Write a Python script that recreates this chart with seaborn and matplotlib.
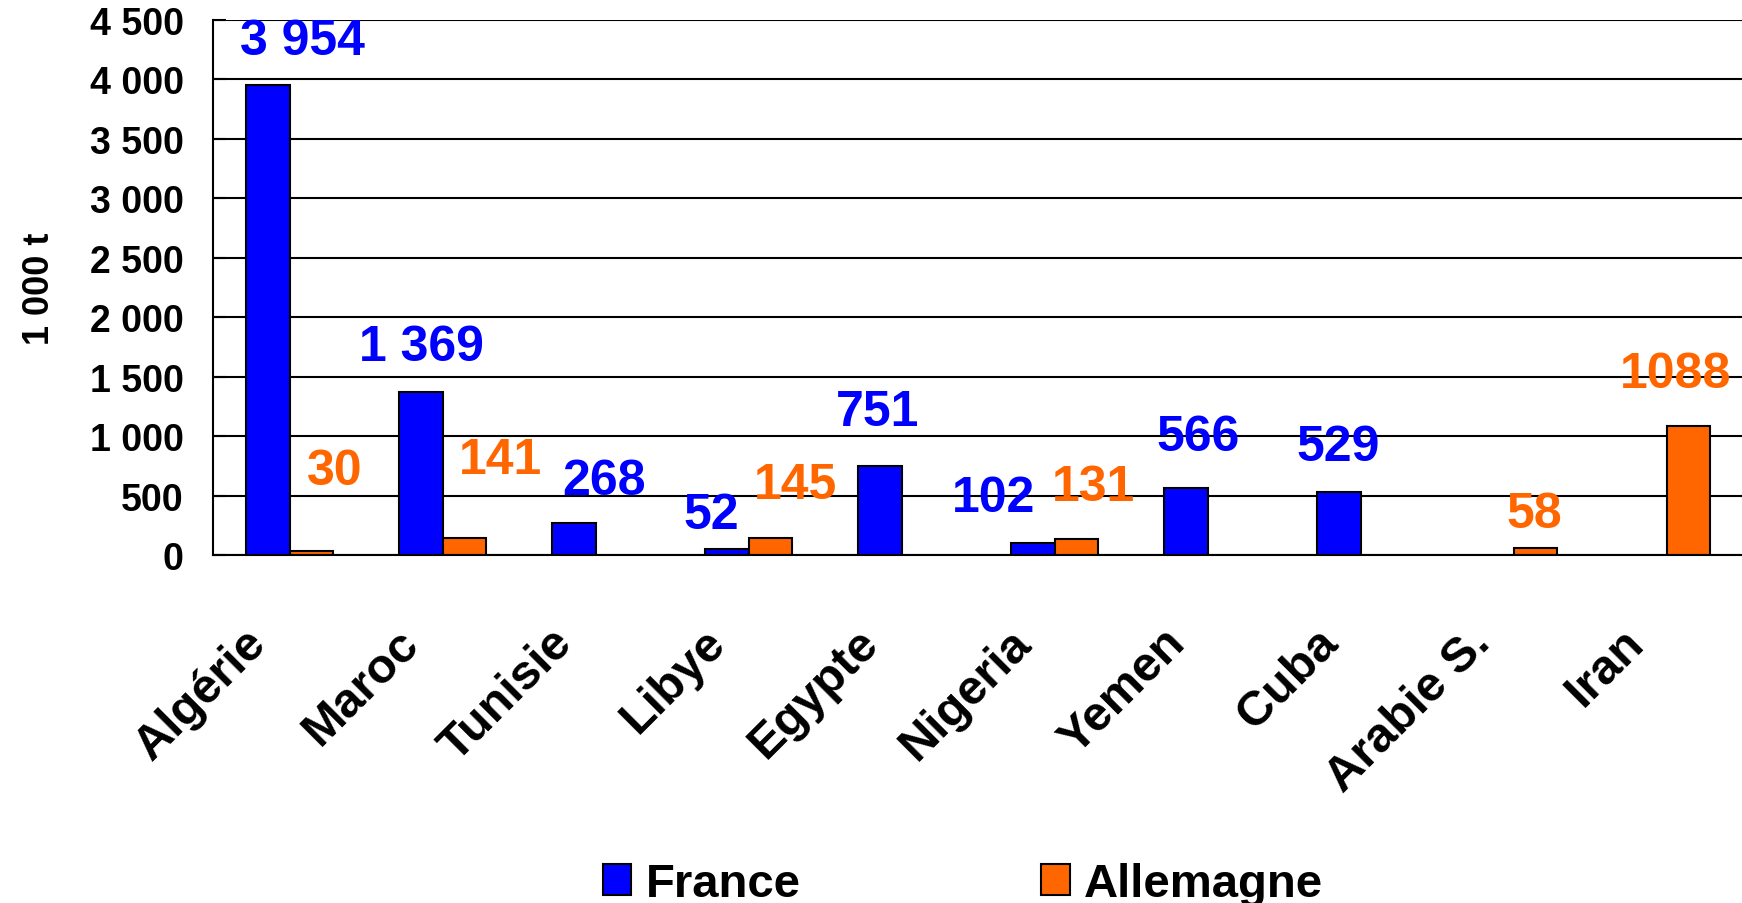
import numpy as np
import pandas as pd
import matplotlib
matplotlib.use("Agg")
import matplotlib.pyplot as plt
import matplotlib.transforms as mtrans
from matplotlib.ticker import FuncFormatter, MultipleLocator
import seaborn as sns

# Data
countries = ["Algérie", "Maroc", "Tunisie", "Libye", "Egypte",
             "Nigeria", "Yemen", "Cuba", "Arabie S.", "Iran"]
france = [3954, 1369, 268, 52, 751, 102, 566, 529, None, None]
allemagne = [30, 141, None, 145, None, 131, None, None, 58, 1088]
series = ["France", "Allemagne"]
colors = {"France": "#0000FF", "Allemagne": "#FF6600"}

# label offsets (pixels) from the top-centre of each bar, hand placed as in original
label_offsets = {
    ("France", "Algérie"): (35, 44), ("France", "Maroc"): (1, 45),
    ("France", "Tunisie"): (31, 42), ("France", "Libye"): (-15, 34),
    ("France", "Egypte"): (-2, 54), ("France", "Nigeria"): (-39, 45),
    ("France", "Yemen"): (13, 51), ("France", "Cuba"): (0, 45),
    ("Allemagne", "Algérie"): (23, 80), ("Allemagne", "Maroc"): (36, 78),
    ("Allemagne", "Libye"): (25, 53), ("Allemagne", "Nigeria"): (17, 52),
    ("Allemagne", "Arabie S."): (-1, 34), ("Allemagne", "Iran"): (-13, 52),
}

rows = []
for c, f, a in zip(countries, france, allemagne):
    if f is not None:
        rows.append({"pays": c, "serie": "France", "val": f})
    if a is not None:
        rows.append({"pays": c, "serie": "Allemagne", "val": a})
df = pd.DataFrame(rows)


def fmt_thousands(v):
    return f"{int(v):,}".replace(",", " ")


label_text = {("France", c): fmt_thousands(v) for c, v in zip(countries, france) if v is not None}
label_text.update({("Allemagne", c): fmt_thousands(v) for c, v in zip(countries, allemagne) if v is not None})
label_text[("Allemagne", "Iran")] = "1088"

sns.set_style("white")
plt.rcParams["font.family"] = ["Liberation Sans", "DejaVu Sans"]
plt.rcParams["font.weight"] = "bold"
plt.rcParams["text.color"] = "black"
plt.rcParams["axes.labelcolor"] = "black"
plt.rcParams["xtick.color"] = "black"
plt.rcParams["ytick.color"] = "black"

fig = plt.figure(figsize=(17.42, 9.04), dpi=100)
W, H = 1742, 904
ax = fig.add_axes([213 / W, 1 - 556 / H, 1530 / W, (556 - 21) / H])

sns.barplot(data=df, x="pays", y="val", hue="serie", order=countries,
            hue_order=series, palette=colors, saturation=1, width=0.575, gap=0,
            edgecolor="black", linewidth=1.5, errorbar=None, ax=ax)

ax.set_xlim(-0.5, 9.5)
ax.set_ylim(0, 4500)
ax.yaxis.set_major_locator(MultipleLocator(500))
ax.yaxis.set_major_formatter(FuncFormatter(lambda v, p: fmt_thousands(v)))
ax.grid(axis="y", color="black", linewidth=1.5)
ax.set_axisbelow(True)
for s in ["top", "right"]:
    ax.spines[s].set_visible(False)
for s in ["left", "bottom"]:
    ax.spines[s].set_color("black")
    ax.spines[s].set_linewidth(1.5)

ax.tick_params(axis="y", direction="in", length=9.5, width=1.5, pad=21,
               labelsize=27, left=True, colors="black")
ax.tick_params(axis="x", length=0, pad=58, labelsize=35, colors="black")
for lab in ax.get_yticklabels():
    lab.set_fontweight("bold")
ax.set_xlabel("")
ax.set_ylabel("1 000 t", fontsize=26, fontweight="bold", color="black")
ax.yaxis.set_label_coords(-0.102, 0.5)

shift = mtrans.ScaledTranslation(-30 / 100, 0, fig.dpi_scale_trans)
for lab in ax.get_xticklabels():
    lab.set_rotation(45)
    lab.set_ha("right")
    lab.set_va("center")
    lab.set_rotation_mode("anchor")
    lab.set_fontweight("bold")
    lab.set_transform(lab.get_transform() + shift)

# value labels
for serie, cont in zip(series, ax.containers):
    for bar in cont:
        xc = bar.get_x() + bar.get_width() / 2
        h = bar.get_height()
        if np.isnan(h):
            continue
        pays = countries[int(round(xc))]
        key = (serie, pays)
        dx, dy = label_offsets[key]
        ax.annotate(label_text[key], (xc, h), xytext=(dx, dy),
                    textcoords="offset pixels", ha="center", va="center",
                    fontsize=36, fontweight="bold", color=colors[serie],
                    annotation_clip=False)

handles, labels = ax.get_legend_handles_labels()
if ax.get_legend() is not None:
    ax.get_legend().remove()
leg = fig.legend(handles, labels, loc="center", bbox_to_anchor=(963 / W, 1 - 885 / H),
                 ncol=2, frameon=False, prop={"weight": "bold", "size": 34},
                 handlelength=0.6, handleheight=0.65, handletextpad=0.3,
                 columnspacing=5.1, borderpad=0)
for t in leg.get_texts():
    t.set_color("black")

fig.savefig("out.png", dpi=100)
